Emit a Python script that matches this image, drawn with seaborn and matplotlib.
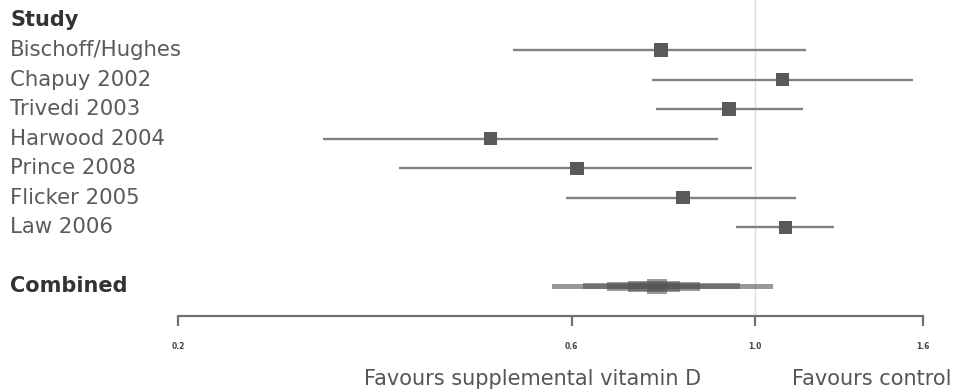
import numpy as np
import pandas as pd
import matplotlib
matplotlib.use("Agg")
import matplotlib.pyplot as plt
import matplotlib.transforms as mtransforms
import seaborn as sns

# Relative risk estimates with 95% confidence limits per trial
studies = ["Bischoff/Hughes", "Chapuy 2002", "Trivedi 2003", "Harwood 2004",
           "Prince 2008", "Flicker 2005", "Law 2006"]
estimate = [0.770, 1.082, 0.931, 0.479, 0.609, 0.819, 1.091]
lower = [0.509, 0.751, 0.759, 0.300, 0.371, 0.591, 0.949]
upper = [1.154, 1.556, 1.144, 0.903, 0.993, 1.122, 1.248]

# Pooled estimate drawn as nested intervals (widest, thinnest first)
combined_lower = [0.568, 0.619, 0.662, 0.702, 0.740]
combined_upper = [1.052, 0.960, 0.858, 0.812, 0.783]

tick_values = [0.2, 0.6, 1.0, 1.6]
tick_labels = ["0.2", "0.6", "1.0", "1.6"]

sns.set_theme(style="white")
plt.rcParams["font.family"] = ["DejaVu Sans"]

df = pd.DataFrame({"study": studies, "est": estimate, "lo": lower, "hi": upper,
                   "row": np.arange(1, len(studies) + 1)})
combined_row = len(studies) + 2

fig = plt.figure(figsize=(9.64, 3.92), dpi=100)
ax = fig.add_axes([178 / 964, 1 - 316 / 392, (923 - 178) / 964, 316 / 392])

ax.axvline(1.0, color="#dedede", lw=1.0, zorder=0)

ax.hlines(df["row"], df["lo"], df["hi"], color="#808080", lw=1.7, zorder=2)
sns.scatterplot(data=df, x="est", y="row", marker="s", s=90, color="#595959",
                edgecolor="none", ax=ax, zorder=3, legend=False)

half_heights = [0.07, 0.10, 0.15, 0.20, 0.25]
for lo, hi, hh in zip(combined_lower, combined_upper, half_heights):
    ax.barh(combined_row, hi - lo, left=lo, height=2 * hh, color="#555555",
            alpha=0.6, edgecolor="none", zorder=3)

ax.set_xscale("log")
ax.set_xlim(0.2, 1.6)
ax.set_ylim(combined_row + 1, -0.69)
ax.set_xticks(tick_values)
ax.set_xticklabels(tick_labels)
ax.minorticks_off()
ax.set_yticks([])
ax.set_xlabel("")
ax.set_ylabel("")
for side in ["top", "right", "left"]:
    ax.spines[side].set_visible(False)
ax.spines["bottom"].set_color("#707070")
ax.spines["bottom"].set_linewidth(1.6)
ax.tick_params(axis="x", direction="out", length=7, width=1.6, color="#707070",
               labelsize=5.5, labelcolor="#444444", pad=12, bottom=True)
for lbl in ax.get_xticklabels():
    lbl.set_fontweight("bold")

label_tr = mtransforms.blended_transform_factory(fig.transFigure, ax.transData)
ax.text(10 / 964, 0, "Study", transform=label_tr, fontsize=15, fontweight="bold",
        color="#333333", va="center", ha="left", clip_on=False)
for name, row in zip(df["study"], df["row"]):
    ax.text(10 / 964, row, name, transform=label_tr, fontsize=15.3,
            color="#5a5a5a", va="center", ha="left", clip_on=False)
ax.text(10 / 964, combined_row, "Combined", transform=label_tr, fontsize=15,
        fontweight="bold", color="#333333", va="center", ha="left", clip_on=False)

fig.text(533 / 964, 1 - 379 / 392, "Favours supplemental vitamin D", fontsize=15,
         color="#555555", ha="center", va="center")
fig.text(872 / 964, 1 - 379 / 392, "Favours control", fontsize=15,
         color="#555555", ha="center", va="center")

fig.savefig("out.png", dpi=100)
